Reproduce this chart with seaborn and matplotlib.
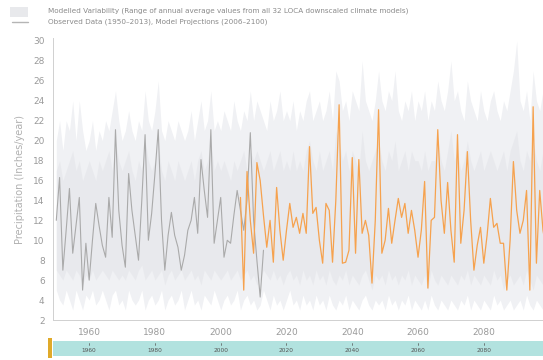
import numpy as np
import pandas as pd
import matplotlib
matplotlib.use("Agg")
import matplotlib.pyplot as plt
import seaborn as sns

# ---------------- data ----------------
obs_start = 1950
observed = [12.0, 16.3, 7.0, 11.0, 15.2, 8.7, 11.5, 14.3, 5.0, 9.7,
            6.0, 10.0, 13.7, 11.5, 9.5, 8.3, 14.3, 10.3, 21.1, 13.0,
            9.5, 7.3, 16.7, 13.0, 10.5, 8.0, 14.0, 20.6, 10.0, 12.7,
            16.7, 21.1, 12.0, 7.0, 10.5, 12.8, 10.5, 9.3, 7.0, 8.5,
            11.0, 12.0, 14.3, 10.7, 18.1, 15.0, 12.3, 21.1, 9.7, 12.0,
            14.3, 8.3, 10.0, 9.7, 12.5, 15.0, 13.0, 11.0, 14.0, 20.8,
            12.0, 8.0, 4.3, 9.0]

proj_start = 2006
projected = [14.3, 5.0, 16.9, 12.0, 8.7, 17.8, 16.0, 12.5, 9.3, 12.0,
             7.8, 15.3, 11.0, 8.0, 11.0, 13.7, 11.3, 12.3, 10.7, 12.7,
             10.7, 19.4, 12.7, 13.3, 10.0, 7.7, 13.7, 13.0, 7.8, 14.0,
             23.6, 7.7, 7.8, 9.0, 18.3, 8.7, 18.1, 10.7, 12.0, 10.5,
             5.7, 12.0, 23.1, 8.7, 10.0, 13.2, 9.7, 12.0, 14.2, 12.3,
             13.7, 10.7, 13.0, 11.0, 8.3, 11.0, 15.9, 5.2, 12.0, 12.3,
             21.1, 14.0, 10.7, 15.8, 11.0, 7.8, 20.6, 9.7, 13.0, 18.9,
             12.0, 7.0, 9.5, 11.3, 7.7, 10.5, 14.2, 11.3, 11.7, 9.7,
             9.7, 5.0, 10.0, 17.9, 13.0, 10.7, 12.0, 15.0, 5.0, 23.4,
             7.7, 15.0, 11.0, 9.0, 12.0]

band_start = 1950
band_max = [20, 22, 19, 22, 21, 24, 20, 24, 21, 19,
            20, 22, 19, 21, 20, 22, 21, 23, 25, 22,
            20, 21, 23, 21, 20, 22, 21, 25, 22, 21,
            23, 26, 21, 20, 22, 21, 20, 22, 21, 20,
            21, 23, 20, 22, 24, 21, 22, 25, 21, 22,
            21, 23, 22, 21, 24, 22, 21, 23, 22, 25,
            22, 24, 23, 22, 21, 24, 22, 23, 25, 22,
            23, 22, 24, 21, 23, 22, 24, 25, 22, 23,
            24, 22, 23, 25, 22, 27, 26, 23, 24, 22,
            25, 24, 23, 28, 24, 23, 22, 24, 27, 24,
            23, 25, 24, 27, 23, 22, 24, 23, 25, 22,
            24, 23, 25, 22, 24, 23, 26, 24, 23, 25,
            28, 24, 25, 23, 22, 26, 24, 23, 22, 25,
            23, 22, 24, 25, 23, 22, 24, 23, 25, 27,
            30, 24, 23, 25, 22, 27, 24, 23, 25, 24,
            23]
band_min = [5, 4, 3.5, 5, 4, 3, 5, 4, 3, 4.5,
            4, 5, 3.5, 4, 5, 4, 3, 4.5, 5, 3.5,
            4, 3, 5, 4, 3.5, 4, 5, 3, 4, 4.5,
            3.5, 4, 5, 3, 4, 4.5, 3.5, 4, 5, 3,
            4, 5, 3.5, 4, 3, 4.5, 4, 3.5, 5, 4,
            3, 4, 4.5, 3.5, 4, 5, 3, 4, 4.5, 3.5,
            4, 3, 3.5, 5, 4, 3, 4.5, 3.5, 4, 3,
            4, 5, 3.5, 4, 3, 4.5, 3.5, 4, 3, 4.5,
            3.5, 4, 3, 4.5, 3.5, 3, 4, 3.5, 4.5, 3,
            4, 3.5, 3, 4, 4.5, 3.5, 3, 4, 3.5, 4,
            3, 4.5, 3.5, 4, 3, 4, 3.5, 4.5, 3, 4,
            3.5, 3, 4, 3, 4.5, 3.5, 3, 4, 3.5, 3,
            4, 3.5, 3, 4, 3.5, 4.5, 3, 4, 3.5, 3,
            4, 3.5, 3, 4.5, 3.5, 4, 3, 3.5, 4, 3,
            3.5, 4, 3, 4.5, 3.5, 3, 4, 3.5, 3, 4,
            3.5]
inner_hi = [17, 18, 16, 17, 18, 19, 17, 18, 16, 17,
            18, 17, 16, 18, 17, 18, 19, 17, 20, 18,
            17, 18, 19, 17, 16, 18, 17, 20, 18, 17,
            18, 20, 17, 16, 18, 17, 16, 18, 17, 16,
            17, 18, 16, 18, 19, 17, 18, 20, 17, 18,
            17, 18, 17, 16, 18, 17, 18, 19, 17, 19,
            18, 19, 18, 17, 18, 19, 17, 18, 19, 17,
            18, 17, 19, 17, 18, 17, 19, 20, 18, 17,
            19, 17, 18, 19, 17, 21, 20, 18, 19, 17,
            19, 18, 17, 21, 18, 17, 18, 19, 20, 18,
            17, 19, 18, 20, 17, 18, 19, 17, 19, 18,
            18, 17, 19, 17, 18, 18, 20, 18, 17, 19,
            21, 18, 19, 17, 18, 20, 18, 17, 18, 19,
            17, 18, 19, 18, 17, 18, 19, 17, 19, 20,
            21, 18, 17, 19, 18, 20, 18, 17, 19, 18,
            18]
inner_lo = [7, 6.5, 6, 7, 6.5, 6, 7, 6.5, 5.5, 6.5,
            6, 7, 6, 6.5, 7, 6.5, 6, 7, 6.5, 6,
            6.5, 6, 7, 6.5, 6, 7, 7.5, 6, 6.5, 7,
            6, 6.5, 7, 5.5, 6.5, 7, 6, 6.5, 7, 6,
            6.5, 7, 6, 6.5, 5.5, 7, 6.5, 6, 7, 6.5,
            6, 6.5, 7, 6, 6.5, 7, 6, 6.5, 7, 6,
            6.5, 5.5, 6, 7, 6.5, 6, 7, 6, 6.5, 5.5,
            6.5, 7, 6, 6.5, 5.5, 7, 6, 6.5, 5.5, 7,
            6, 6.5, 5.5, 7, 6, 5.5, 6.5, 6, 7, 5.5,
            6.5, 6, 5.5, 6.5, 7, 6, 5, 6.5, 6, 6.5,
            5.5, 7, 6, 6.5, 5.5, 6.5, 6, 7, 5.5, 6.5,
            6, 5.5, 6.5, 5, 7, 6, 5.5, 6.5, 6, 5.5,
            6.5, 6, 5.5, 6.5, 6, 7, 5.5, 6.5, 6, 5.5,
            6.5, 6, 5.5, 7, 6, 6.5, 5, 6, 6.5, 5.5,
            6, 6.5, 5.5, 7, 6, 5, 6.5, 6, 5.5, 6.5,
            6]

y_ticks = list(range(2, 31, 2))
x_ticks = [1960, 1980, 2000, 2020, 2040, 2060, 2080]
legend_band = "Modelled Variability (Range of annual average values from all 32 LOCA downscaled climate models)"
legend_line = "Observed Data (1950\u20132013), Model Projections (2006\u20132100)"
y_label = "Precipitation (Inches/year)"

# ---------------- frames ----------------
obs_df = pd.DataFrame({"year": np.arange(obs_start, obs_start + len(observed)), "value": observed})
proj_df = pd.DataFrame({"year": np.arange(proj_start, proj_start + len(projected)), "value": projected})
band_years = np.arange(band_start, band_start + len(band_max))

# ---------------- figure ----------------
sns.set_style("white")
plt.rcParams["font.family"] = ["DejaVu Sans"]
fig = plt.figure(figsize=(5.43, 3.6), dpi=100)
ax = fig.add_axes([53 / 543, 1 - 320 / 360, 1 - 53 / 543, (320 - 38) / 360])

ax.fill_between(band_years, band_min, band_max, color="#f0f1f4", lw=0, zorder=1)
ax.fill_between(band_years, inner_lo, inner_hi, color="#e7e8ec", lw=0, alpha=0.8, zorder=2)

sns.lineplot(data=obs_df, x="year", y="value", ax=ax, color="#aaaaaa", lw=0.8, zorder=3)
sns.lineplot(data=proj_df, x="year", y="value", ax=ax, color="#f6a24e", lw=0.9, zorder=4)

ax.set_xlim(1949, 2098)
ax.set_ylim(2, 30.3)
ax.set_yticks(y_ticks)
ax.set_xticks(x_ticks)
ax.tick_params(axis="both", labelsize=6.5, labelcolor="#9a9a9a", color="#cccccc",
               length=2.5, width=0.6)
ax.tick_params(axis="x", length=0, pad=6)
ax.set_xlabel("")
ax.set_ylabel(y_label, fontsize=7, color="#b0b0b0", labelpad=6)
for side in ["top", "right"]:
    ax.spines[side].set_visible(False)
for side in ["left", "bottom"]:
    ax.spines[side].set_color("#d0d0d0")
    ax.spines[side].set_linewidth(0.7)

# legend (manual, top)
fig.patches.append(matplotlib.patches.Rectangle((10 / 543, 1 - 17 / 360), 18 / 543, 10 / 360,
                   transform=fig.transFigure, facecolor="#e8e9ec", edgecolor="none"))
fig.lines.append(matplotlib.lines.Line2D([12 / 543, 28 / 543], [1 - 22 / 360, 1 - 22 / 360],
                 transform=fig.transFigure, color="#b5b5b5", lw=1.0))
fig.text(48 / 543, 1 - 11 / 360, legend_band, fontsize=5.2, color="#8a8a8a", va="center", ha="left")
fig.text(48 / 543, 1 - 22 / 360, legend_line, fontsize=5.2, color="#8a8a8a", va="center", ha="left")

# navigator bar
nav = fig.add_axes([53 / 543, 1 - 356 / 360, 1 - 53 / 543, 15 / 360])
nav.set_xlim(1949, 2098)
nav.set_ylim(0, 1)
nav.axvspan(1949, 2098, color="#b2e2df", lw=0)
for t in x_ticks:
    nav.plot([t, t], [0.72, 0.9], color="#555555", lw=0.5)
    nav.text(t, 0.38, str(t), fontsize=4.2, color="#555555", ha="center", va="center")
nav.set_axis_off()
fig.patches.append(matplotlib.patches.Rectangle((48 / 543, 1 - 358 / 360), 4 / 543, 20 / 360,
                   transform=fig.transFigure, facecolor="#e0aa2a", edgecolor="none"))

fig.savefig("out.png", dpi=100)
